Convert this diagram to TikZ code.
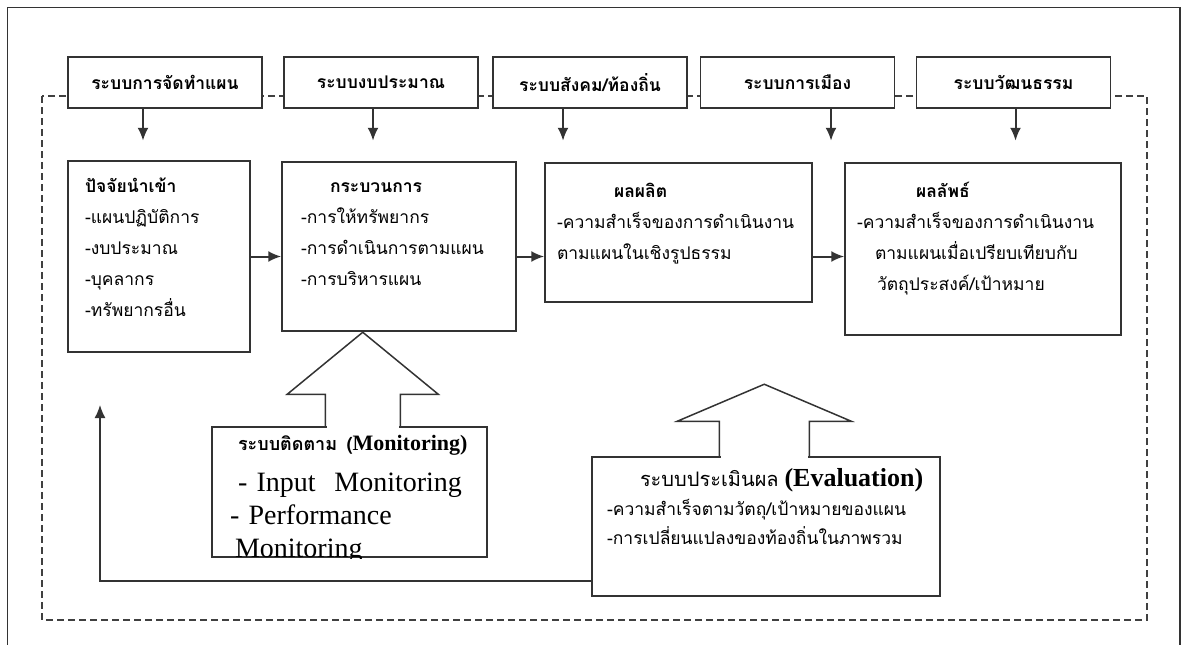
\documentclass[tikz,border=0pt]{standalone}
\usepackage{fontspec}
\setmainfont{Liberation Serif}
\newfontfamily\thai[Script=Thai]{Loma}
\usetikzlibrary{calc,arrows.meta}
\newcommand{\thaihead}{\thai\bfseries\fontsize{17.5}{31}\selectfont}
\newcommand{\thaibody}{\thai\fontsize{17.5}{31}\selectfont}
\tikzstyle{system} = [rectangle, draw=black!80, line width=1.5pt, fill=white, text centered, minimum width=194pt, minimum height=51pt, font=\thaihead]
\tikzstyle{stage} = [rectangle, draw=black!80, line width=1.5pt, fill=white, align=left, inner xsep=12pt, inner ysep=4pt, font=\thaibody]
\tikzstyle{review} = [rectangle, draw=black!80, line width=1.5pt, fill=white, align=left, inner ysep=4pt]
\tikzstyle{hollow} = [draw=black!80, line width=1.5pt, line join=miter]
\tikzstyle{connector} = [draw=black!80, line width=2pt, -{Latex[length=13pt,width=11pt]}]
\tikzstyle{boundary} = [draw=black!75, line width=1.3pt, dash pattern=on 7pt off 4pt]

\begin{document}
\begin{tikzpicture}[x=1pt, y=-1pt, node distance=216pt]
\useasboundingbox (0,0) rectangle (1183,645);
\draw [line width=1.5pt, black!80] (7.5,645) -- (7.5,7.5) -- (1180,7.5) -- (1180,645);
\draw [boundary] (42,96) rectangle (1147,620);

\node (plan) [system] at (165,82.5) {ระบบการจัดทำแผน};
\node (budget) [system, right of=plan] {ระบบงบประมาณ};
\node (social) [system, right of=budget, xshift=-7pt] {ระบบสังคม/ท้องถิ่น};
\node (politics) [system, right of=social, xshift=-8.5pt] {ระบบการเมือง};
\node (culture) [system, right of=politics] {ระบบวัฒนธรรม};

\node (input) [stage, below of=plan, xshift=-6pt, yshift=42pt, inner xsep=17pt, text width=148pt, text height=27pt, text depth=156pt] {\textbf{ปัจจัยนำเข้า}\\-แผนปฏิบัติการ\\-งบประมาณ\\-บุคลากร\\-ทรัพยากรอื่น};
\node (process) [stage, right of=input, xshift=24pt, yshift=10pt, inner xsep=19pt, text width=196pt, text height=26pt, text depth=135pt] {\hspace*{29pt}\textbf{กระบวนการ}\\-การให้ทรัพยากร\\-การดำเนินการตามแผน\\-การบริหารแผน};
\node (output) [stage, right of=process, xshift=63.5pt, yshift=14pt, text width=243pt, text height=30pt, text depth=101pt] {\hspace*{57pt}\textbf{ผลผลิต}\\-ความสำเร็จของการดำเนินงาน\\ตามแผนในเชิงรูปธรรม};
\node (outcome) [stage, right of=output, xshift=88.5pt, yshift=-16.5pt, text width=252pt, text height=30pt, text depth=134pt] {\hspace*{59pt}\textbf{ผลลัพธ์}\\-ความสำเร็จของการดำเนินงาน\\\hspace*{18pt}ตามแผนเมื่อเปรียบเทียบกับ\\\hspace*{20pt}วัตถุประสงค์/เป้าหมาย};

\begin{scope}
\clip (0,0) rectangle (1183,558);
\node (monitor) [review, below of=process, xshift=-49.5pt, yshift=-29.5pt, inner xsep=14pt, text width=247pt, text height=19pt, text depth=103pt, font=\fontsize{28}{33}\selectfont] {\mbox{\hspace*{12pt}{\thai\bfseries\fontsize{18}{22}\selectfont ระบบติดตาม (}{\bfseries\fontsize{22}{26}\selectfont Monitoring)}}\\[8pt]\hspace*{12pt}- Input\ \ Monitoring\\\hspace*{4pt}- Performance\\\hspace*{9pt}Monitoring};
\end{scope}
\node (evaluation) [review, below of=output, xshift=87.5pt, yshift=-78pt, inner xsep=15pt, text width=318pt, text height=25pt, text depth=106pt, font=\thaibody] {\mbox{\hspace*{33pt}{\fontsize{20}{22}\selectfont ระบบประเมินผล }{\rmfamily\bfseries\fontsize{26}{26}\selectfont (Evaluation)}}\\[-2pt]-ความสำเร็จตามวัตถุ/เป้าหมายของแผน\\[-2pt]-การเปลี่ยนแปลงของท้องถิ่นในภาพรวม};

\draw [connector] ([xshift=-22pt]plan.south) -- ++(0,32);
\draw [connector] ([xshift=-8pt]budget.south) -- ++(0,32);
\draw [connector] ([xshift=-27pt]social.south) -- ++(0,32);
\draw [connector] ([xshift=33.5pt]politics.south) -- ++(0,32);
\draw [connector] ([xshift=2pt]culture.south) -- ++(0,32);
\draw [connector] (input.east) -- (input.east -| process.west);
\draw [connector] (process.east |- input.east) -- (output.west |- input.east);
\draw [connector] (output.east |- input.east) -- (outcome.west |- input.east);

\fill [white] ($(monitor.north west)+(115.5,-2)$) rectangle ($(monitor.north west)+(187.5,2)$);
\draw [hollow] ($(monitor.north west)+(114,0)$) -- ++(0,-32) -- ++(-38,0) -- ++(75.5,-62) -- ++(75.5,62) -- ++(-38,0) -- ++(0,32);
\fill [white] ($(evaluation.north west)+(129.5,-2)$) rectangle ($(evaluation.north west)+(216.5,2)$);
\draw [hollow] ($(evaluation.north west)+(128,0)$) -- ++(0,-35) -- ++(-42,0) -- ++(87,-37) -- ++(87,37) -- ++(-42,0) -- ++(0,35);

\coordinate (back) at (100,405);
\draw [connector, line width=1.5pt] ([yshift=16pt]evaluation.south west) -| (back);
\end{tikzpicture}
\end{document}
